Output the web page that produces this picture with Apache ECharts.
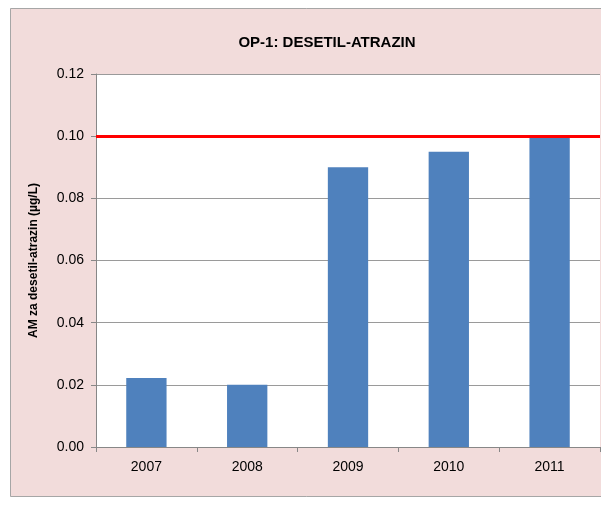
<!DOCTYPE html>
<html><head><meta charset="utf-8">
<script src="https://cdn.jsdelivr.net/npm/echarts@6/dist/echarts.min.js"></script>
<style>html,body{margin:0;padding:0;background:#fff}#c{width:601px;height:505px}</style>
</head><body><div id="c"></div>
<script>
const title = 'OP-1: DESETIL-ATRAZIN';
const yName = 'AM za desetil-atrazin (µg/L)';
const years = ['2007','2008','2009','2010','2011'];
const values = [0.0222, 0.020, 0.090, 0.095, 0.100];
const limitValue = 0.10;
const yMin = 0, yMax = 0.12, yStep = 0.02;

const font = '"Liberation Sans Narrow","Liberation Sans",Arial,sans-serif';
const chart = echarts.init(document.getElementById('c'), null, {renderer:'canvas'});
chart.setOption({
  animation:false,
  backgroundColor:'#ffffff',
  graphic:[{type:'rect', z:-10, shape:{x:10.5,y:8.5,width:600,height:488}, style:{fill:'#f2dcdb',stroke:'#a6a6a6',lineWidth:1}}],
  title:{text:title,left:322,top:30,textAlign:'center',textStyle:{fontFamily:font,fontWeight:'bold',fontSize:15,color:'#000'}},
  grid:{left:96,top:74,width:504,height:373,backgroundColor:'#ffffff',show:true,borderWidth:0},
  xAxis:{type:'category',data:years,
    axisLine:{lineStyle:{color:'#878787'}},
    axisTick:{show:true,alignWithLabel:false,length:5,lineStyle:{color:'#878787'}},
    axisLabel:{fontFamily:font,fontSize:14,color:'#000',margin:13}},
  yAxis:{type:'value',min:yMin,max:yMax,interval:yStep,
    name:yName,nameLocation:'middle',nameGap:56,nameRotate:90,
    nameTextStyle:{fontFamily:'"Liberation Sans",Arial,sans-serif',fontWeight:'bold',fontSize:12,color:'#000'},
    axisLine:{show:true,lineStyle:{color:'#878787'}},
    axisTick:{show:true,length:5,lineStyle:{color:'#878787'}},
    splitLine:{lineStyle:{color:'#9a9a9a'}},
    axisLabel:{fontFamily:font,fontSize:14,color:'#000',margin:12,formatter:v=>v.toFixed(2)}},
  series:[{type:'bar',data:values,barWidth:'40%',itemStyle:{color:'#4f81bd'},
    markLine:{silent:true,symbol:'none',label:{show:false},
      lineStyle:{color:'#ff0000',width:3,type:'solid'},
      data:[{yAxis:limitValue}]}}]
});
</script></body></html>
